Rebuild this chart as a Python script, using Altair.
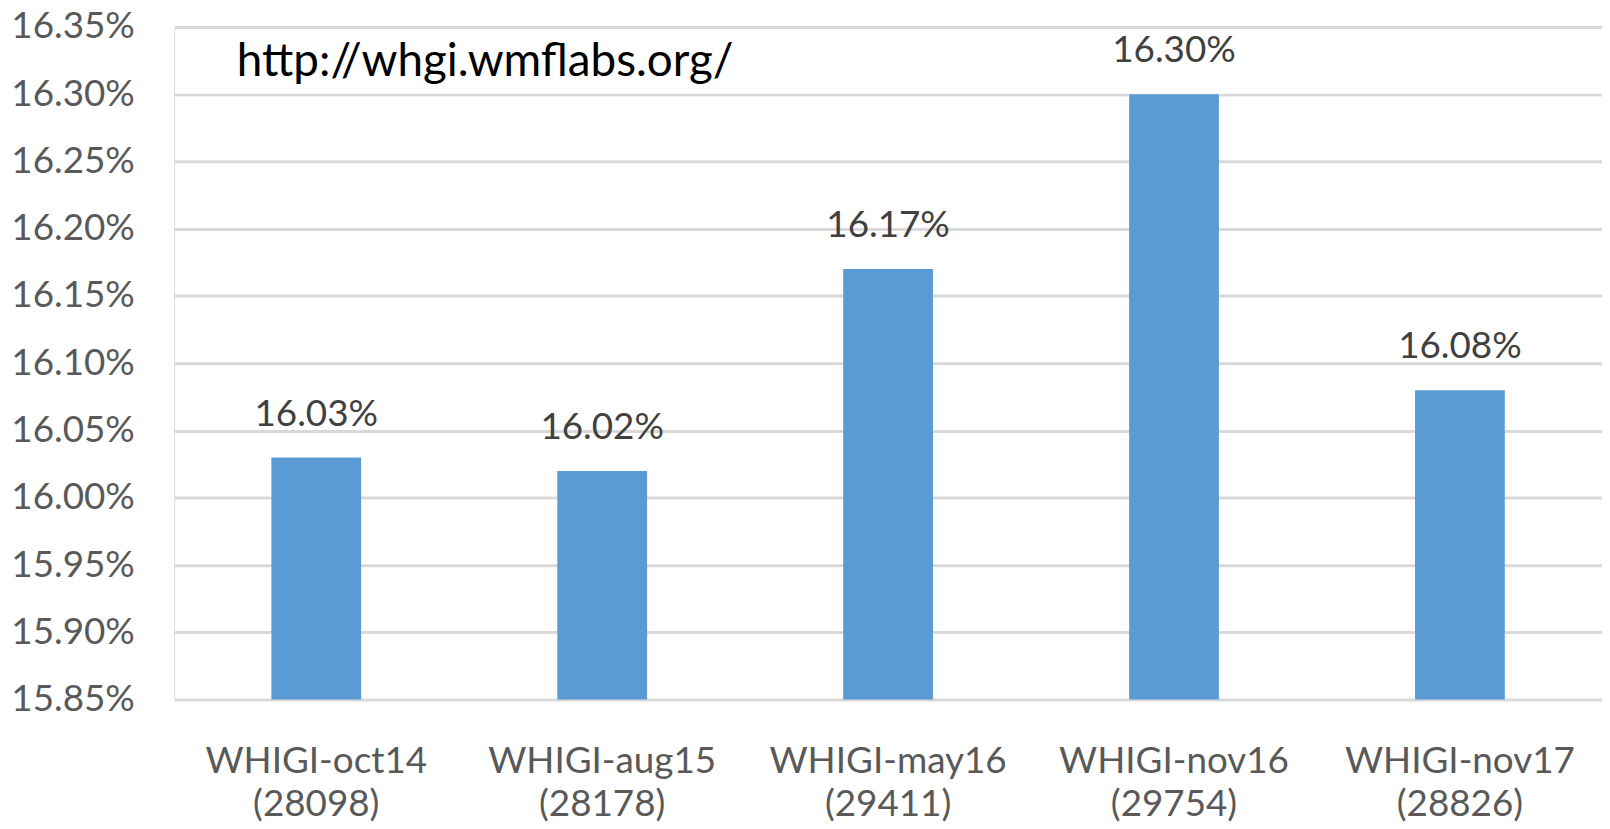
import altair as alt
import pandas as pd

names = ["WHIGI-oct14", "WHIGI-aug15", "WHIGI-may16", "WHIGI-nov16", "WHIGI-nov17"]
counts = ["(28098)", "(28178)", "(29411)", "(29754)", "(28826)"]
values = [0.1603, 0.1602, 0.1617, 0.1630, 0.1608]
y_ticks = [0.1585, 0.1590, 0.1595, 0.1600, 0.1605, 0.1610, 0.1615, 0.1620, 0.1625, 0.1630, 0.1635]
note = ["http://whgi.wmflabs.org/"]

df = pd.DataFrame({
    "cat": [f"{n}\n{c}" for n, c in zip(names, counts)],
    "value": values,
})
note_df = pd.DataFrame({"t": note})

FONT = "Lato"
order = list(df["cat"])

x = alt.X("cat:N", sort=order, title=None,
          scale=alt.Scale(paddingInner=0.686, paddingOuter=0.34),
          axis=alt.Axis(labelExpr="split(datum.label, '\\n')", labelAngle=0,
                        labelFont=FONT, labelFontSize=37, labelColor="#595959",
                        labelLineHeight=44, labelPadding=44, labelBaseline="top",
                        labelLimit=0, domain=False, ticks=False, grid=False))
y = alt.Y("value:Q", title=None,
          scale=alt.Scale(domain=[0.1585, 0.1635], zero=False, nice=False),
          axis=alt.Axis(values=y_ticks, format=".2%", labelFont=FONT, labelFontSize=37,
                        labelColor="#595959", labelPadding=40, domain=False, ticks=False,
                        gridColor="#d9d9d9", gridWidth=3))

base = alt.Chart(df)
bars = base.mark_bar(color="#5B9BD5", clip=True).encode(x=x, y=y)
labels = base.mark_text(font=FONT, fontSize=37, color="#404040", baseline="alphabetic",
                        dy=-32).encode(x=alt.X("cat:N", sort=order), y="value:Q",
                                       text=alt.Text("value:Q", format=".2%"))
ann = alt.Chart(note_df).mark_text(font=FONT, fontSize=46, color="#000000", align="left",
                                   baseline="alphabetic").encode(
    x=alt.value(63), y=alt.value(49), text="t:N")

chart = alt.layer(bars, labels, ann).properties(
    width=1435, height=676,
    autosize=alt.AutoSizeParams(type="none"),
    padding={"left": 167, "top": 17, "right": 0, "bottom": 128},
).configure_view(stroke=None).configure(background="white")

chart.save("out.html", embed_options={"renderer": "svg", "actions": False})
